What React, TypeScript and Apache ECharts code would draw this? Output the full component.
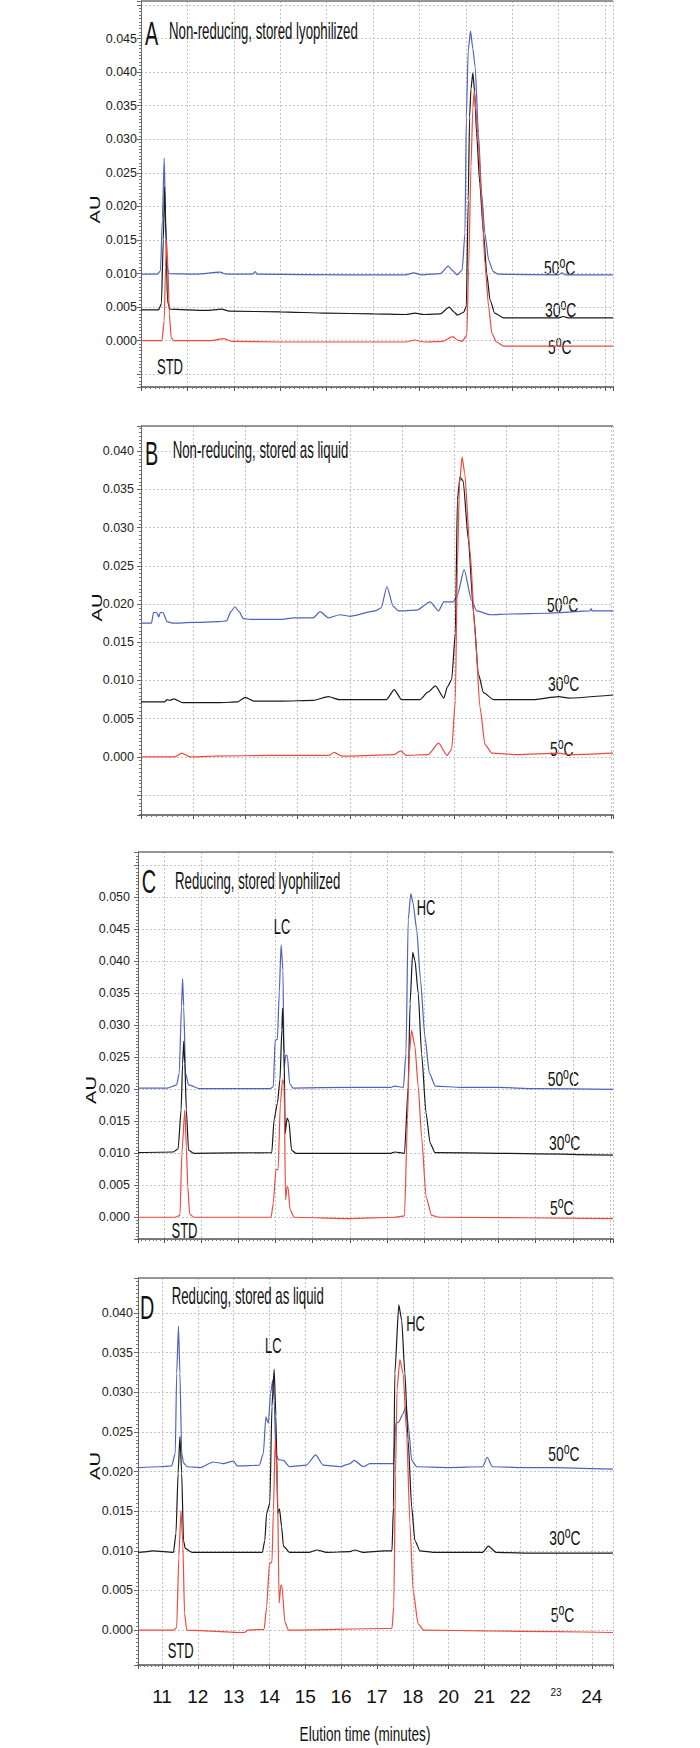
import React, { useEffect, useRef } from 'react';
import * as echarts from 'echarts';

type Pt = [number, number];

// ---------------- Panel A: non-reducing, stored lyophilized ----------------
const A_50C: Pt[] = [
  [11.0, 0.0099], [11.35, 0.0099], [11.42, 0.0104], [11.46, 0.018], [11.5, 0.0272], [11.53, 0.018], [11.56, 0.0112],
  [11.6, 0.01], [12.2, 0.0099], [12.7, 0.0102], [12.85, 0.0099], [13.4, 0.0099], [13.46, 0.0103], [13.5, 0.0099],
  [15.5, 0.0098], [16.7, 0.0098], [16.88, 0.0101], [17.05, 0.0098], [17.45, 0.01], [17.62, 0.0111], [17.72, 0.0104],
  [17.81, 0.0098], [17.92, 0.0105], [17.98, 0.016], [18.01, 0.0333], [18.05, 0.0432], [18.1, 0.0461], [18.15, 0.0435],
  [18.2, 0.0408], [18.27, 0.0309], [18.34, 0.0219], [18.41, 0.016], [18.49, 0.012], [18.59, 0.0103], [18.7, 0.0099],
  [20.0, 0.0098], [20.07, 0.0101], [20.15, 0.0098], [21.17, 0.0098],
];
const A_30C: Pt[] = [
  [11.0, 0.0046], [11.38, 0.0046], [11.44, 0.0055], [11.48, 0.015], [11.51, 0.0229], [11.54, 0.015], [11.57, 0.006],
  [11.62, 0.0047], [12.4, 0.0045], [12.74, 0.0047], [12.9, 0.0044], [14.0, 0.0043], [15.0, 0.0041], [16.0, 0.004],
  [16.7, 0.0039], [16.9, 0.0041], [17.1, 0.0039], [17.45, 0.004], [17.64, 0.005], [17.74, 0.0043], [17.82, 0.0038],
  [17.95, 0.0042], [18.01, 0.0051], [18.05, 0.0209], [18.08, 0.0333], [18.11, 0.0375], [18.15, 0.0399], [18.19, 0.037],
  [18.23, 0.0309], [18.3, 0.0234], [18.38, 0.016], [18.45, 0.01], [18.52, 0.0061], [18.62, 0.0041], [18.81, 0.0034],
  [20.0, 0.0034], [20.1, 0.0036], [20.2, 0.0034], [21.17, 0.0034],
];
const A_5C: Pt[] = [
  [11.0, 0.0], [11.45, 0.0], [11.5, 0.003], [11.53, 0.011], [11.55, 0.015], [11.58, 0.011], [11.61, 0.004],
  [11.65, 0.0005], [11.7, 0.0], [12.5, 0.0], [12.78, 0.0003], [12.95, -0.0001], [14.0, -0.0002], [15.5, -0.0002],
  [16.7, -0.0002], [16.9, 0.0001], [17.1, -0.0002], [17.5, -0.0001], [17.72, 0.0006], [17.82, 0.0001], [17.92, -0.0001],
  [18.02, 0.0008], [18.06, 0.011], [18.11, 0.0259], [18.15, 0.0347], [18.18, 0.0372], [18.22, 0.034], [18.27, 0.0294],
  [18.34, 0.0209], [18.41, 0.0115], [18.49, 0.0051], [18.56, 0.0011], [18.66, -0.0002], [18.81, -0.0008],
  [20.0, -0.0008], [21.17, -0.0008],
];

// ---------------- Panel B: non-reducing, stored as liquid ----------------
const B_50C: Pt[] = [
  [10.0, 0.0175], [10.2, 0.0175], [10.24, 0.0189], [10.3, 0.0189], [10.34, 0.0183], [10.37, 0.0189], [10.42, 0.0189],
  [10.5, 0.0177], [10.6, 0.0175], [11.0, 0.0176], [11.5, 0.0177], [11.64, 0.0178], [11.72, 0.019], [11.8, 0.01965],
  [11.88, 0.019], [11.96, 0.0181], [12.1, 0.018], [12.7, 0.018], [12.92, 0.0182], [13.3, 0.0182], [13.43, 0.019],
  [13.59, 0.0182], [13.81, 0.0186], [14.0, 0.0184], [14.48, 0.0191], [14.6, 0.0195], [14.71, 0.0223], [14.83, 0.0197],
  [14.93, 0.0191], [15.28, 0.0192], [15.54, 0.0203], [15.7, 0.0191], [15.8, 0.0203], [15.98, 0.0203], [16.05, 0.021],
  [16.19, 0.0245], [16.33, 0.0205], [16.43, 0.0191], [16.69, 0.0186], [17.06, 0.0187], [17.77, 0.0188], [18.6, 0.0191],
  [18.62, 0.0194], [18.64, 0.0191], [19.04, 0.0191],
];
const B_30C: Pt[] = [
  [10.0, 0.0072], [10.45, 0.0072], [10.5, 0.0075], [10.55, 0.0074], [10.63, 0.0076], [10.8, 0.0071], [11.5, 0.0071],
  [11.85, 0.0072], [12.0, 0.0078], [12.16, 0.0073], [12.7, 0.0073], [13.3, 0.0074], [13.59, 0.0079], [13.8, 0.0075],
  [14.0, 0.0075], [14.7, 0.0075], [14.85, 0.0088], [14.99, 0.0075], [15.34, 0.0075], [15.5, 0.0085], [15.64, 0.0093],
  [15.8, 0.0077], [15.87, 0.0092], [15.95, 0.0101], [16.02, 0.0162], [16.06, 0.0336], [16.11, 0.0366], [16.17, 0.0361],
  [16.27, 0.0284], [16.37, 0.0188], [16.46, 0.0109], [16.56, 0.0084], [16.75, 0.0075], [17.5, 0.0075], [18.0, 0.0079],
  [18.2, 0.0077], [19.04, 0.0081],
];
const B_5C: Pt[] = [
  [10.0, 0.0], [10.65, 0.0], [10.78, 0.0005], [10.94, 0.0], [11.4, 0.0001], [12.5, 0.0002], [13.6, 0.0002],
  [13.7, 0.0006], [13.85, 0.0001], [14.0, 0.0001], [14.85, 0.0003], [14.97, 0.0008], [15.08, 0.0002], [15.5, 0.0003],
  [15.7, 0.0018], [15.86, 0.0002], [15.95, 0.001], [16.02, 0.0074], [16.06, 0.0249], [16.1, 0.0358], [16.15, 0.03925],
  [16.2, 0.0371], [16.3, 0.0271], [16.4, 0.0162], [16.49, 0.0066], [16.59, 0.0016], [16.72, 0.0005], [17.2, 0.0003],
  [18.0, 0.0005], [18.2, 0.0003], [19.04, 0.0005],
];

// ---------------- Panel C: reducing, stored lyophilized ----------------
const C_50C: Pt[] = [
  [10.3, 0.0202], [11.09, 0.0202], [11.34, 0.0207], [11.41, 0.0225], [11.47, 0.0329], [11.5, 0.0373], [11.53, 0.0329],
  [11.58, 0.0225], [11.66, 0.0207], [11.96, 0.0201], [13.85, 0.0201], [13.94, 0.0204], [13.99, 0.0277], [14.05, 0.0278],
  [14.1, 0.035], [14.15, 0.0426], [14.2, 0.0386], [14.23, 0.0235], [14.28, 0.0254], [14.32, 0.0252], [14.38, 0.0209],
  [14.47, 0.0202], [16.0, 0.0203], [17.1, 0.0203], [17.21, 0.0205], [17.44, 0.0203], [17.51, 0.0256], [17.57, 0.0465],
  [17.64, 0.0506], [17.7, 0.0491], [17.8, 0.0449], [17.9, 0.0371], [18.02, 0.0282], [18.14, 0.0225], [18.3, 0.0205],
  [19.0, 0.0203], [20.0, 0.0203], [21.0, 0.0201], [23.08, 0.02],
];
const C_30C: Pt[] = [
  [10.3, 0.0101], [11.25, 0.0102], [11.38, 0.0107], [11.46, 0.0168], [11.5, 0.024], [11.53, 0.0275], [11.56, 0.024],
  [11.6, 0.0168], [11.66, 0.0105], [11.8, 0.01], [13.9, 0.0101], [13.96, 0.0152], [14.05, 0.0178], [14.12, 0.0215],
  [14.17, 0.0293], [14.19, 0.0327], [14.23, 0.0256], [14.26, 0.0131], [14.31, 0.0155], [14.36, 0.015], [14.43, 0.0105],
  [14.55, 0.01], [17.1, 0.01], [17.21, 0.0102], [17.47, 0.01], [17.57, 0.0204], [17.62, 0.0334], [17.69, 0.0414],
  [17.75, 0.0402], [17.84, 0.035], [17.93, 0.0256], [18.05, 0.0163], [18.16, 0.0116], [18.29, 0.0101], [20.0, 0.01],
  [23.08, 0.0097],
];
const C_5C: Pt[] = [
  [10.3, 0.0], [11.3, 0.0], [11.43, 0.0003], [11.48, 0.01], [11.56, 0.0168], [11.6, 0.011], [11.64, 0.0048],
  [11.69, 0.0005], [11.8, 0.0], [13.88, 0.0], [13.94, 0.0022], [14.01, 0.0074], [14.07, 0.0075], [14.13, 0.0178],
  [14.19, 0.0215], [14.23, 0.0208], [14.27, 0.0027], [14.31, 0.0048], [14.34, 0.0046], [14.39, 0.0012], [14.5, 0.0],
  [16.0, -0.0002], [17.2, 0.0], [17.47, 0.0002], [17.55, 0.0152], [17.6, 0.0256], [17.66, 0.0292], [17.75, 0.0267],
  [17.84, 0.0204], [17.93, 0.0126], [18.05, 0.0032], [18.2, 0.0003], [18.4, 0.0], [23.08, -0.0002],
];

// ---------------- Panel D: reducing, stored as liquid ----------------
const D_50C: Pt[] = [
  [10.33, 0.0205], [10.95, 0.0206], [11.27, 0.0207], [11.37, 0.0223], [11.41, 0.0324], [11.46, 0.0383], [11.5, 0.0324],
  [11.55, 0.0223], [11.6, 0.0211], [11.7, 0.0206], [12.07, 0.0205], [12.43, 0.0212], [12.7, 0.021], [13.0, 0.0213],
  [13.1, 0.0207], [13.72, 0.0208], [13.83, 0.0223], [13.9, 0.0269], [13.97, 0.0261], [14.03, 0.0298], [14.09, 0.0315],
  [14.13, 0.029], [14.18, 0.0223], [14.25, 0.0215], [14.39, 0.0214], [14.56, 0.0206], [15.03, 0.0208], [15.29, 0.0221],
  [15.5, 0.0208], [15.97, 0.0206], [16.25, 0.021], [16.36, 0.0214], [16.62, 0.0206], [16.8, 0.021], [17.46, 0.021],
  [17.53, 0.0261], [17.6, 0.0262], [17.73, 0.0273], [17.81, 0.0282], [17.88, 0.0256], [17.97, 0.0214], [18.11, 0.0206],
  [19.0, 0.0205], [19.95, 0.0206], [20.08, 0.0218], [20.22, 0.0206], [21.0, 0.0205], [21.9, 0.0205], [23.59, 0.0203],
];
const D_30C: Pt[] = [
  [10.33, 0.0098], [10.6, 0.0099], [10.75, 0.01], [11.32, 0.0098], [11.39, 0.0122], [11.45, 0.0198], [11.5, 0.0244],
  [11.55, 0.0198], [11.6, 0.0113], [11.65, 0.0103], [11.84, 0.0098], [13.8, 0.0098], [13.87, 0.0113], [13.92, 0.0147],
  [14.01, 0.016], [14.07, 0.0282], [14.13, 0.0329], [14.18, 0.027], [14.23, 0.0147], [14.28, 0.0153], [14.34, 0.013],
  [14.39, 0.0106], [14.56, 0.0098], [15.1, 0.0098], [15.32, 0.0101], [15.6, 0.0098], [16.25, 0.0099], [16.38, 0.0101],
  [16.62, 0.0098], [17.2, 0.01], [17.42, 0.01], [17.46, 0.0155], [17.5, 0.0324], [17.61, 0.041], [17.69, 0.0391],
  [17.78, 0.0324], [17.87, 0.024], [17.97, 0.0155], [18.06, 0.0113], [18.2, 0.01], [18.6, 0.0098], [19.95, 0.0098],
  [20.11, 0.0106], [20.33, 0.0098], [21.5, 0.0097], [23.59, 0.0097],
];
const D_5C: Pt[] = [
  [10.33, 0.0], [11.32, 0.0], [11.41, 0.0003], [11.47, 0.0092], [11.53, 0.0151], [11.58, 0.011], [11.63, 0.0021],
  [11.69, 0.0], [13.3, -0.0003], [13.4, 0.0], [13.85, 0.0001], [13.92, 0.0029], [14.0, 0.0084], [14.07, 0.0086],
  [14.11, 0.015], [14.16, 0.024], [14.22, 0.019], [14.27, 0.0034], [14.32, 0.0057], [14.35, 0.0055], [14.43, 0.001],
  [14.53, 0.0], [17.2, 0.0002], [17.42, 0.0002], [17.47, 0.003], [17.52, 0.0198], [17.56, 0.0303], [17.64, 0.0341],
  [17.73, 0.0324], [17.83, 0.0248], [17.92, 0.0135], [18.01, 0.005], [18.15, 0.0008], [18.3, 0.0], [20.0, -0.0001],
  [22.0, -0.0002], [23.59, -0.0003],
];

// ---------------- Tick labels & texts ----------------
const A_Y_TICKS = ['0.000', '0.005', '0.010', '0.015', '0.020', '0.025', '0.030', '0.035', '0.040', '0.045'];
const B_Y_TICKS = ['0.000', '0.005', '0.010', '0.015', '0.020', '0.025', '0.030', '0.035', '0.040'];
const C_Y_TICKS = ['0.000', '0.005', '0.010', '0.015', '0.020', '0.025', '0.030', '0.035', '0.040', '0.045', '0.050'];
const D_Y_TICKS = ['0.000', '0.005', '0.010', '0.015', '0.020', '0.025', '0.030', '0.035', '0.040'];
const D_X_TICKS = ['11', '12', '13', '14', '15', '16', '17', '18', '20', '21', '22', '23', '24'];
const D_X_FIRST = 11;
const D_X_SMALL = '23';
const X_TITLE = 'Elution time (minutes)';
const Y_TITLE = 'AU';
const LETTERS = ['A', 'B', 'C', 'D'];
const TITLES = [
  'Non-reducing, stored lyophilized',
  'Non-reducing, stored as liquid',
  'Reducing, stored lyophilized',
  'Reducing, stored as liquid',
];
const TEMPS = ['50', '30', '5'];
const PEAK_STD = 'STD';
const PEAK_LC = 'LC';
const PEAK_HC = 'HC';

const SERIES = [
  [A_50C, A_30C, A_5C],
  [B_50C, B_30C, B_5C],
  [C_50C, C_30C, C_5C],
  [D_50C, D_30C, D_5C],
];
const Y_TICKS = [A_Y_TICKS, B_Y_TICKS, C_Y_TICKS, D_Y_TICKS];

// ---------------- Layout (positions / styles only) ----------------
const LAYOUT = [
  {
    grid: { left: 141, top: 1, width: 472, height: 386 }, xMin: 11, xMax: 21.17, yMin: -0.0069, yMax: 0.0506,
    yMargin: 4, letter: [145, 33], title: [169, 30.7], temps: [[544, 268], [545, 309.5], [548, 346.7]],
    au: [95.3, 209.5], std: [170, 366.5], lc: null, hc: null,
  },
  {
    grid: { left: 141, top: 426, width: 472, height: 389 }, xMin: 10, xMax: 19.04, yMin: -0.0076, yMax: 0.0433,
    yMargin: 7, letter: [145, 453], title: [172.7, 450.5], temps: [[547, 605], [548, 684], [550, 748.5]],
    au: [96.7, 607.5], std: null, lc: null, hc: null,
  },
  {
    grid: { left: 138, top: 852, width: 475, height: 387 }, xMin: 10.3, xMax: 23.08, yMin: -0.0034, yMax: 0.0571,
    yMargin: 8, letter: [141.7, 881], title: [175, 880.7], temps: [[547.7, 1079], [549, 1143], [550, 1208]],
    au: [91, 1090], std: [184.5, 1230], lc: [282, 927], hc: [426, 907.5],
  },
  {
    grid: { left: 138, top: 1278, width: 475, height: 387 }, xMin: 10.33, xMax: 23.59, yMin: -0.0044, yMax: 0.0444,
    yMargin: 5, letter: [140, 1307.5], title: [171.7, 1295.7], temps: [[548.3, 1454], [549.3, 1538], [550.7, 1614.7]],
    au: [95.3, 1466], std: [180.7, 1649.7], lc: [273.3, 1345.8], hc: [415.5, 1324],
  },
];

const COLORS = ['#4f63bd', '#1a1a1a', '#ee4a3e'];
const FONT = '"Liberation Sans", Arial, sans-serif';
const NARROW = '"Liberation Sans Narrow", "Arial Narrow", "Liberation Sans", sans-serif';
const INK = '#111';

function tStyle(text: string, size: number, align: string) {
  return {
    text, fontSize: size, fontFamily: FONT, fill: INK,
    align, textAlign: align, verticalAlign: 'middle', textVerticalAlign: 'middle',
  };
}

function textEl(text: string, x: number, y: number, size: number, sx: number, align = 'left', extra: any = {}) {
  return { type: 'text', x, y, scaleX: sx, z: 100, silent: true, style: tStyle(text, size, align), ...extra };
}

function tempEl(num: string, x: number, y: number) {
  const fs = 21;
  const fo = 16;
  const wNum = num.length * 0.556 * fs;
  const wO = 0.556 * fo;
  return {
    type: 'group', x, y, scaleX: 0.66, z: 100, silent: true,
    children: [
      { type: 'text', x: 0, y: 0, style: tStyle(num, fs, 'left') },
      { type: 'text', x: wNum, y: -5, style: tStyle('o', fo, 'left') },
      { type: 'text', x: wNum + wO, y: 0, style: tStyle('C', fs, 'left') },
    ],
  };
}

function buildOption(): any {
  const grids: any[] = [];
  const xAxes: any[] = [];
  const yAxes: any[] = [];
  const series: any[] = [];
  const graphics: any[] = [];

  LAYOUT.forEach((L, i) => {
    grids.push({ ...L.grid, containLabel: false, outerBoundsMode: 'none', show: false });
    const isBottom = i === 3;
    xAxes.push({
      type: 'value', gridIndex: i, min: L.xMin, max: L.xMax, minInterval: 1, maxInterval: 1,
      axisLine: { show: true, onZero: false, lineStyle: { color: '#555', width: 1.5 } },
      axisTick: { show: true, length: 4, lineStyle: { color: '#555', width: 1 } },
      minorTick: { show: true, splitNumber: 10, length: 2, lineStyle: { color: '#777', width: 1 } },
      splitLine: { show: true, lineStyle: { color: '#c4c4c4', width: 1, type: [2, 2] } },
      minorSplitLine: { show: false },
      axisLabel: {
        show: isBottom, margin: 22, fontSize: 19, fontFamily: NARROW, color: INK,
        showMinLabel: false, showMaxLabel: false,
        formatter: (v: number) => {
          const k = Math.round(v - D_X_FIRST);
          if (Math.abs(v - D_X_FIRST - k) > 1e-6 || k < 0 || k >= D_X_TICKS.length) return '';
          const s = D_X_TICKS[k];
          return s === D_X_SMALL ? `{s|${s}}` : s;
        },
        rich: { s: { fontSize: 10, fontFamily: NARROW, color: INK, verticalAlign: 'top' } },
      },
    });
    const ticks = Y_TICKS[i];
    yAxes.push({
      type: 'value', gridIndex: i, min: L.yMin, max: L.yMax, minInterval: 0.005, maxInterval: 0.005,
      axisLine: { show: true, onZero: false, lineStyle: { color: '#666', width: 1 } },
      axisTick: { show: true, length: 4, lineStyle: { color: '#666', width: 1 } },
      minorTick: { show: true, splitNumber: 10, length: 2, lineStyle: { color: '#777', width: 1 } },
      splitLine: { show: true, lineStyle: { color: '#c4c4c4', width: 1, type: [2, 2] } },
      minorSplitLine: { show: false },
      axisLabel: {
        show: true, margin: L.yMargin, fontSize: 12.5, fontFamily: NARROW, color: '#222',
        formatter: (v: number) => {
          for (const s of ticks) if (Math.abs(parseFloat(s) - v) < 1e-7) return s;
          return '';
        },
      },
    });
    SERIES[i].forEach((data, j) => {
      series.push({
        type: 'line', xAxisIndex: i, yAxisIndex: i, data, showSymbol: false, symbol: 'none',
        smooth: 0.2, smoothMonotone: 'x',
        lineStyle: { color: COLORS[j], width: 1.2 }, silent: true, clip: true, z: 2 + j,
      });
    });

    // decorations
    graphics.push({
      type: 'line', z: 50, silent: true,
      shape: { x1: L.grid.left, y1: L.grid.top, x2: L.grid.left + L.grid.width, y2: L.grid.top },
      style: { stroke: '#777', lineWidth: 1.5 },
    });
    graphics.push(textEl(LETTERS[i], L.letter[0], L.letter[1], 33, 0.6));
    graphics.push(textEl(TITLES[i], L.title[0], L.title[1], 23, 0.575));
    L.temps.forEach((p, j) => graphics.push(tempEl(TEMPS[j], p[0], p[1])));
    graphics.push({
      type: 'text', x: L.au[0], y: L.au[1], rotation: Math.PI / 2, scaleY: 0.75, z: 100, silent: true,
      style: tStyle(Y_TITLE, 20, 'center'),
    });
    if (L.std) graphics.push(textEl(PEAK_STD, L.std[0], L.std[1], 22.5, 0.58, 'center'));
    if (L.lc) graphics.push(textEl(PEAK_LC, L.lc[0], L.lc[1], 21.5, 0.6, 'center'));
    if (L.hc) graphics.push(textEl(PEAK_HC, L.hc[0], L.hc[1], 21.5, 0.6, 'center'));
  });

  graphics.push(textEl(X_TITLE, 365, 1734, 20.5, 0.66, 'center'));

  return {
    animation: false,
    backgroundColor: '#ffffff',
    grid: grids,
    xAxis: xAxes,
    yAxis: yAxes,
    series,
    graphic: { elements: graphics },
  };
}

export default function App() {
  const ref = useRef<HTMLDivElement>(null);
  useEffect(() => {
    if (!ref.current) return;
    const chart = echarts.init(ref.current, null, { renderer: 'svg' });
    chart.setOption(buildOption());
    return () => chart.dispose();
  }, []);
  return (
    <div
      ref={ref}
      style={{ position: 'absolute', left: 0, top: 0, width: 700, height: 1748, background: '#fff' }}
    />
  );
}
